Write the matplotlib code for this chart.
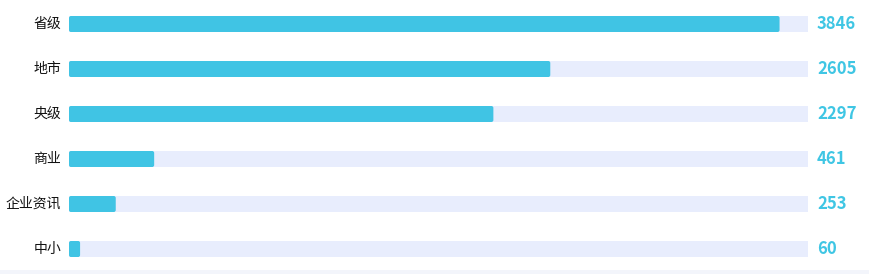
import matplotlib
matplotlib.use("Agg")
import matplotlib.pyplot as plt
from matplotlib.patches import FancyBboxPatch, Rectangle

plt.rcParams['font.family'] = ['Noto Sans CJK SC', 'DejaVu Sans']

categories = ["省级", "地市", "央级", "商业", "企业资讯", "中小"]
values = [3846, 2605, 2297, 461, 253, 60]
axis_max = 4000

W, H = 870, 274
fig = plt.figure(figsize=(W / 100, H / 100), dpi=100)
fig.patches.append(Rectangle((0, 0), 1, 4 / H, transform=fig.transFigure,
                             facecolor="#f3f5fb", edgecolor="none", zorder=0))

x0, x1 = 69, 808
y_top, y_bot = 1.5, 271.5
ax = fig.add_axes([x0 / W, (H - y_bot) / H, (x1 - x0) / W, (y_bot - y_top) / H])
ax.set_xlim(0, axis_max)
n = len(categories)
ax.set_ylim(n - 0.5, -0.5)
ax.axis("off")

bar_h = 16 / 45
px_per_x = (x1 - x0) / axis_max
px_per_y = 45
aspect = px_per_x / px_per_y
r = 2 / px_per_x

for i, (cat, v) in enumerate(zip(categories, values)):
    ax.add_patch(Rectangle((0, i - bar_h / 2), axis_max, bar_h,
                           facecolor="#e8edfd", edgecolor="none", zorder=1))
    ax.add_patch(FancyBboxPatch((0, i - bar_h / 2), v, bar_h,
                                boxstyle=f"round,pad=0,rounding_size={r}",
                                mutation_aspect=aspect,
                                facecolor="#40c4e4", edgecolor="none", zorder=2))
    ax.text(-8 / px_per_x, i, cat, ha="right", va="center", fontsize=10,
            color="#111111")
    ax.text(axis_max + 9 / px_per_x, i, str(v), ha="left", va="center",
            fontsize=12, fontweight="bold", color="#3fc6e4")

fig.savefig("out.png", dpi=100)
